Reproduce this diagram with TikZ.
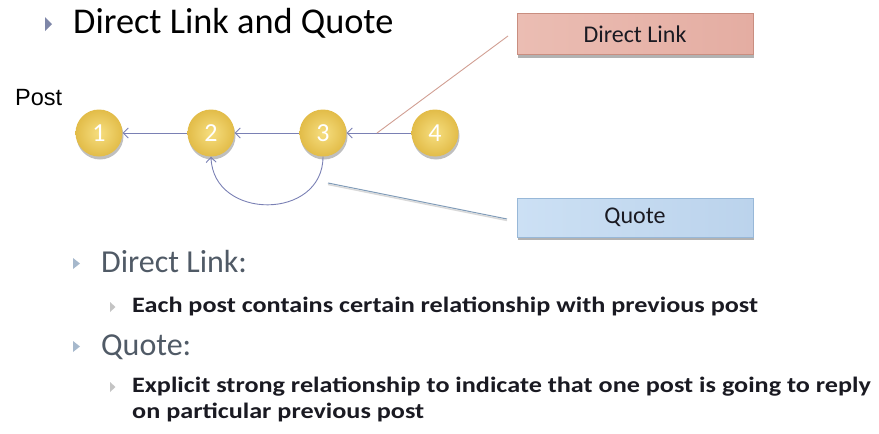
\documentclass[tikz,border=0pt]{standalone}
\usepackage{fontspec}
\setmainfont{Carlito}
\newfontfamily\arialf{Liberation Sans}
\newfontfamily\widef[FakeStretch=1.19]{Carlito}
\usetikzlibrary{arrows.meta,shadows,calc}
\definecolor{arrc}{HTML}{7A80B4}
\definecolor{goldin}{HTML}{F6DE80}
\definecolor{goldout}{HTML}{E2BC48}
\definecolor{dlfill}{HTML}{EBBDB3}
\definecolor{dlfill2}{HTML}{E4ADA2}
\definecolor{dldraw}{HTML}{C98E80}
\definecolor{qfill}{HTML}{CCE0F4}
\definecolor{qfill2}{HTML}{BBD3EC}
\definecolor{qdraw}{HTML}{98B8D8}
\definecolor{lvlone}{HTML}{505A66}
\definecolor{lvltwo}{HTML}{1A1A22}
\definecolor{tribig}{HTML}{7E86A8}
\definecolor{trione}{HTML}{A6B8CC}
\definecolor{tritwo}{HTML}{C4C4C4}
\tikzset{
  post/.style={circle, minimum size=47pt, inner sep=0pt,
    inner color=goldin, outer color=goldout,
    drop shadow={shadow xshift=1pt, shadow yshift=-3pt, fill=black, opacity=.25},
    text=white, font=\fontsize{26}{26}\selectfont},
  link/.style={draw=arrc, line width=0.9pt, -{Straight Barb[length=5pt,width=10pt]}},
  labbox/.style={rectangle, minimum width=236pt, minimum height=41pt, inner sep=0pt,
    line width=0.8pt, text=lvltwo, font=\fontsize{24}{24}\selectfont,
    drop shadow={shadow xshift=1pt, shadow yshift=-3pt, fill=black, opacity=.3}},
  txt/.style={anchor=base west, inner sep=0pt},
  subtxt/.style={txt, font=\widef\bfseries\fontsize{22}{22}\selectfont, text=lvltwo},
}
\begin{document}
\begin{tikzpicture}[x=1pt,y=-1pt]
\useasboundingbox (0,0) rectangle (879,434);

% title
\fill[tribig] (45,17) -- (52,24) -- (45,31) -- cycle;
\node[txt, font=\fontsize{36.3}{36}\selectfont, text=black] (title) at (73,33) {Direct Link and Quote};

% Post label
\node[txt, font=\arialf\fontsize{23.5}{23.5}\selectfont, text=black] (postlbl) at (15,105) {Post};

% post circles
\node[post] (n1) at (99,133) {1};
\node[post] (n2) at (211,133) {2};
\node[post] (n3) at (323,133) {3};
\node[post] (n4) at (435,133) {4};

\draw[link] (n2) -- (n1);
\draw[link] (n3) -- (n2);
\draw[link] (n4) -- (n3);
\draw[link] (n3.south) .. controls +(0,64) and +(2,64) .. (n2.south);

% label boxes
\node[labbox, draw=dldraw, left color=dlfill, right color=dlfill2] (dlbox) at (635,34) {Direct Link};
\node[labbox, draw=qdraw, left color=qfill, right color=qfill2, minimum height=39pt] (qbox) at (635,217.5) {Quote};

\coordinate (dlfoot) at (377,133);
\coordinate (dlend) at (508,36);
\draw[color=dldraw!85, line width=0.9pt] (dlfoot) -- (dlend);

\coordinate (qstart) at (328,183);
\coordinate (qend) at (507,219);
\draw[color=black!15, line width=1.4pt] ($(qstart)+(0,1.5)$) -- ($(qend)+(0,1.5)$);
\draw[color=qdraw!85!black, line width=1pt] (qstart) -- (qend);

% bullets
\fill[trione] (73,258) -- (80,263.5) -- (73,269) -- cycle;
\node[txt, font=\fontsize{32}{32}\selectfont, text=lvlone] (b1) at (101,272) {Direct Link:};

\fill[tritwo] (110,302) -- (115.5,307) -- (110,312) -- cycle;
\node[subtxt] (b1a) at (132,312) {Each post contains certain relationship with previous post};

\fill[trione] (73,341) -- (80,346.5) -- (73,352) -- cycle;
\node[txt, font=\fontsize{32}{32}\selectfont, text=lvlone] (b2) at (101,355) {Quote:};

\fill[tritwo] (110,382) -- (115.5,387) -- (110,392) -- cycle;
\node[subtxt] (b2a) at (132,392) {Explicit strong relationship to indicate that one post is going to reply};
\node[subtxt] (b2b) at (132,418) {on particular previous post};
\end{tikzpicture}
\end{document}
